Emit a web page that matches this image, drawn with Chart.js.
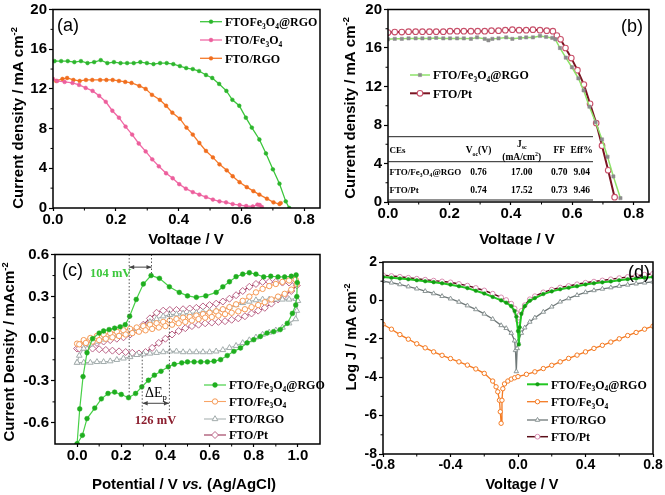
<!DOCTYPE html>
<html>
<head>
<meta charset="utf-8">
<script src="https://cdn.jsdelivr.net/npm/chart.js@4.4.1/dist/chart.umd.min.js"></script>
<style>
html, body { margin: 0; padding: 0; background: #fff; }
#page { position: relative; width: 665px; height: 495px; overflow: hidden; }
.panel { position: absolute; }
</style>
</head>
<body>
<div id="page">
  <div class="panel" style="left:0;top:0;width:332px;height:245px"><canvas id="chartA"></canvas></div>
  <div class="panel" style="left:332px;top:0;width:333px;height:245px"><canvas id="chartB"></canvas></div>
  <div class="panel" style="left:0;top:245px;width:332px;height:250px"><canvas id="chartC"></canvas></div>
  <div class="panel" style="left:332px;top:245px;width:333px;height:250px"><canvas id="chartD"></canvas></div>
</div>
<script>
var SANS = '"Liberation Sans", Arial, Helvetica, sans-serif';
var SERIF = '"Liberation Serif", "Times New Roman", Times, serif';

// (a) J-V curves of the bare electrodes
var aGreenV = [0.005,0.026,0.047,0.068,0.089,0.11,0.131,0.152,0.173,0.194,0.215,0.236,0.257,0.278,0.299,0.32,0.341,0.362,0.383,0.404,0.424,0.445,0.465,0.487,0.507,0.529,0.552,0.571,0.593,0.614,0.633,0.657,0.678,0.7,0.721,0.741,0.752];
var aGreenJ = [14.8,14.8,14.8,14.7,14.8,14.6,14.7,14.9,14.6,14.7,14.6,14.6,14.6,14.7,14.6,14.5,14.6,14.6,14.5,14.3,14.1,14.0,13.8,13.4,13.1,12.5,11.8,10.9,10.3,9.1,8.1,6.9,5.5,3.9,2.45,0.67,0];
var aPinkV = [0.0,0.013,0.037,0.062,0.083,0.104,0.126,0.147,0.168,0.189,0.21,0.231,0.252,0.273,0.295,0.316,0.337,0.36,0.381,0.402,0.423,0.445,0.466,0.487,0.509,0.53,0.551,0.572,0.594,0.615,0.636,0.651,0.658,0.665];
var aPinkJ = [13.0,12.8,12.7,12.6,12.4,12.1,11.8,11.3,10.7,9.8,9.1,8.2,7.4,6.5,5.7,4.9,4.2,3.5,3.0,2.4,1.95,1.6,1.35,1.1,0.85,0.67,0.57,0.4,0.3,0.2,0.15,0.35,0.3,0.1];
var aOrangeV = [0.01,0.03,0.045,0.065,0.085,0.105,0.125,0.15,0.17,0.19,0.21,0.23,0.25,0.275,0.295,0.315,0.34,0.36,0.38,0.404,0.425,0.445,0.466,0.487,0.509,0.53,0.553,0.572,0.594,0.617,0.638,0.657,0.681,0.702,0.721,0.725];
var aOrangeJ = [12.8,13.0,13.1,12.9,12.8,12.9,12.9,12.9,12.9,12.9,12.8,12.7,12.6,12.3,12.0,11.4,10.9,10.3,9.6,9.0,8.1,7.4,6.55,5.75,5.1,4.4,3.8,3.2,2.6,2.1,1.7,1.35,0.94,0.57,0.4,0.5];

// (b) J-V curves of the cells
var bGreenV = [0.0,0.022,0.045,0.067,0.09,0.112,0.135,0.157,0.18,0.202,0.225,0.247,0.27,0.29,0.315,0.327,0.34,0.36,0.385,0.405,0.43,0.45,0.472,0.495,0.515,0.535,0.545,0.56,0.579,0.599,0.62,0.637,0.656,0.676,0.697,0.715,0.734,0.757];
var bGreenJ = [16.9,16.95,16.95,17.0,17.0,17.0,17.0,17.05,17.0,17.0,17.0,17.0,16.95,17.1,16.95,16.8,16.95,17.0,17.1,16.95,17.05,17.1,17.1,17.25,17.15,17.05,16.9,16.0,15.0,14.0,12.85,11.6,9.9,8.3,6.5,4.7,2.65,0.4];
var bPtV = [0.0,0.022,0.045,0.067,0.09,0.112,0.135,0.157,0.18,0.202,0.225,0.247,0.27,0.292,0.315,0.337,0.36,0.382,0.405,0.427,0.45,0.472,0.495,0.517,0.537,0.55,0.562,0.578,0.597,0.617,0.638,0.658,0.678,0.697,0.717,0.738];
var bPtJ = [17.6,17.65,17.65,17.7,17.7,17.7,17.7,17.7,17.7,17.75,17.75,17.75,17.75,17.75,17.75,17.8,17.8,17.85,17.9,17.85,17.85,17.9,17.85,17.8,17.75,17.3,16.9,16.0,14.95,13.7,12.2,10.2,8.2,5.85,3.3,0.5];
var tableHead = ['CEs', 'V_{oc}(V)', 'J_{sc}', '(mA/cm^2)', 'FF', 'Eff%'];
var tableRows = [
    ['FTO/Fe_3O_4@RGO', '0.76', '17.00', '0.70', '9.04'],
    ['FTO/Pt', '0.74', '17.52', '0.73', '9.46']
];

// (c) cyclic voltammograms (forward then reverse scan)
var cGreenV = [0.0,0.012,0.027,0.045,0.07,0.1,0.12,0.145,0.17,0.195,0.218,0.238,0.268,0.3,0.335,0.373,0.418,0.463,0.5,0.54,0.583,0.63,0.66,0.69,0.72,0.75,0.78,0.81,0.845,0.877,0.91,0.94,0.97,0.992,0.997,0.995,0.99,0.975,0.952,0.92,0.89,0.86,0.83,0.8,0.77,0.74,0.71,0.68,0.65,0.62,0.59,0.56,0.53,0.5,0.474,0.44,0.413,0.38,0.35,0.323,0.293,0.265,0.233,0.2,0.17,0.14,0.11,0.08,0.045,0.024,0.0];
var cGreenJ = [-0.75,-0.5,-0.27,-0.1,0.0,0.04,0.055,0.065,0.075,0.085,0.1,0.16,0.28,0.39,0.45,0.43,0.37,0.33,0.305,0.295,0.305,0.33,0.37,0.406,0.442,0.46,0.47,0.46,0.44,0.445,0.44,0.44,0.445,0.454,0.4,0.3,0.24,0.18,0.11,0.065,0.05,0.04,0.016,-0.007,-0.03,-0.066,-0.09,-0.12,-0.149,-0.16,-0.165,-0.165,-0.165,-0.165,-0.172,-0.182,-0.2,-0.232,-0.26,-0.296,-0.343,-0.39,-0.42,-0.397,-0.38,-0.39,-0.428,-0.494,-0.569,-0.688,-0.75];
var cOrangeV = [0.0,0.03,0.06,0.09,0.12,0.15,0.18,0.21,0.24,0.27,0.3,0.33,0.36,0.39,0.42,0.45,0.48,0.51,0.54,0.57,0.6,0.63,0.66,0.69,0.72,0.75,0.78,0.81,0.84,0.87,0.9,0.93,0.96,0.99,0.995,
    0.97,0.94,0.91,0.88,0.85,0.82,0.79,0.76,0.73,0.7,0.67,0.64,0.61,0.58,0.55,0.52,0.49,0.46,0.43,0.4,0.37,0.34,0.31,0.28,0.25,0.22,0.19,0.16,0.13,0.1,0.07,0.04,0.01];
var cOrangeJ = [-0.035,-0.01,0.005,0.02,0.03,0.04,0.05,0.06,0.07,0.08,0.09,0.1,0.11,0.12,0.13,0.14,0.15,0.155,0.165,0.175,0.185,0.195,0.21,0.225,0.245,0.27,0.3,0.33,0.355,0.375,0.39,0.405,0.415,0.42,0.39,
    0.35,0.32,0.3,0.28,0.26,0.24,0.225,0.21,0.195,0.185,0.175,0.165,0.155,0.15,0.14,0.13,0.12,0.11,0.1,0.09,0.08,0.07,0.06,0.05,0.04,0.03,0.02,0.01,0.0,-0.01,-0.02,-0.03,-0.04];
var cGreyV = [0.0,0.01,0.03,0.06,0.09,0.12,0.15,0.18,0.21,0.24,0.27,0.3,0.33,0.36,0.39,0.42,0.45,0.48,0.51,0.54,0.57,0.6,0.63,0.66,0.69,0.72,0.75,0.78,0.81,0.84,0.87,0.9,0.93,0.96,0.99,1.0,0.995,0.99,
    0.96,0.93,0.9,0.87,0.84,0.81,0.78,0.75,0.72,0.69,0.66,0.63,0.6,0.57,0.54,0.51,0.48,0.45,0.42,0.39,0.36,0.33,0.3,0.27,0.24,0.21,0.18,0.15,0.12,0.09,0.06,0.03,0.0];
var cGreyJ = [-0.17,-0.12,-0.07,-0.04,-0.02,-0.005,0.01,0.02,0.035,0.05,0.07,0.09,0.12,0.14,0.16,0.17,0.175,0.18,0.18,0.185,0.19,0.195,0.2,0.21,0.225,0.24,0.255,0.265,0.275,0.28,0.28,0.28,0.28,0.28,0.285,0.27,0.2,0.14,
    0.11,0.08,0.06,0.045,0.03,0.01,-0.01,-0.03,-0.05,-0.065,-0.08,-0.09,-0.095,-0.095,-0.095,-0.095,-0.095,-0.09,-0.09,-0.095,-0.1,-0.105,-0.11,-0.115,-0.13,-0.14,-0.15,-0.16,-0.165,-0.165,-0.17,-0.17,-0.17];
var cPtV = [0.0,0.03,0.06,0.09,0.12,0.15,0.18,0.21,0.24,0.27,0.3,0.33,0.36,0.39,0.42,0.45,0.48,0.51,0.54,0.57,0.6,0.63,0.66,0.69,0.72,0.75,0.78,0.81,0.84,0.87,0.9,0.93,0.96,0.99,0.995,
    0.97,0.94,0.91,0.88,0.85,0.82,0.79,0.76,0.73,0.7,0.67,0.64,0.61,0.58,0.55,0.52,0.49,0.46,0.43,0.4,0.37,0.34,0.31,0.28,0.25,0.22,0.19,0.16,0.13,0.1,0.07,0.04,0.01];
var cPtJ = [-0.07,-0.055,-0.04,-0.03,-0.02,-0.01,0.0,0.01,0.03,0.06,0.1,0.145,0.185,0.2,0.205,0.205,0.21,0.215,0.22,0.23,0.24,0.25,0.265,0.285,0.31,0.34,0.37,0.39,0.405,0.405,0.405,0.4,0.4,0.4,0.38,
    0.34,0.31,0.28,0.25,0.22,0.2,0.18,0.16,0.145,0.135,0.125,0.12,0.115,0.11,0.1,0.09,0.075,0.055,0.03,0.0,-0.03,-0.065,-0.095,-0.105,-0.1,-0.095,-0.09,-0.085,-0.08,-0.075,-0.07,-0.07,-0.07];

// (d) Tafel polarization curves
var dGreenV = [-0.8,-0.75,-0.7,-0.65,-0.6,-0.55,-0.5,-0.45,-0.4,-0.35,-0.3,-0.25,-0.2,-0.15,-0.1,-0.07,-0.04,-0.02,-0.01,0,0.005,0.01,0.02,0.04,0.07,0.1,0.15,0.2,0.25,0.3,0.35,0.4,0.45,0.5,0.55,0.6,0.65,0.7,0.75,0.8];
var dGreenJ = [1.22,1.18,1.14,1.1,1.05,1.0,0.95,0.89,0.82,0.74,0.64,0.5,0.36,0.18,0.0,-0.12,-0.3,-0.55,-0.85,-1.6,-2.3,-1.4,-0.7,-0.3,-0.02,0.12,0.33,0.47,0.58,0.66,0.74,0.83,0.89,0.94,0.99,1.05,1.1,1.14,1.18,1.22];
var dOrangeV = [-0.8,-0.75,-0.7,-0.65,-0.6,-0.55,-0.5,-0.45,-0.4,-0.35,-0.3,-0.25,-0.2,-0.15,-0.13,-0.12,-0.11,-0.105,-0.1,-0.095,-0.09,-0.08,-0.06,-0.04,-0.02,0,0.05,0.1,0.15,0.2,0.25,0.3,0.35,0.4,0.45,0.5,0.55,0.6,0.65,0.7,0.75,0.8];
var dOrangeJ = [-1.24,-1.5,-1.78,-2.02,-2.26,-2.47,-2.68,-2.86,-3.03,-3.2,-3.37,-3.57,-3.8,-4.2,-4.5,-4.76,-5.2,-5.8,-6.4,-5.2,-4.6,-4.35,-4.2,-4.1,-4.03,-3.97,-3.85,-3.72,-3.55,-3.38,-3.2,-3.02,-2.85,-2.68,-2.5,-2.34,-2.17,-2.0,-1.83,-1.67,-1.5,-1.34];
var dGreyV = [-0.8,-0.75,-0.7,-0.65,-0.6,-0.55,-0.5,-0.45,-0.4,-0.35,-0.3,-0.25,-0.2,-0.15,-0.1,-0.07,-0.04,-0.02,-0.015,-0.01,-0.005,0,0.02,0.04,0.07,0.1,0.15,0.2,0.25,0.3,0.35,0.4,0.45,0.5,0.55,0.6,0.65,0.7,0.75,0.8];
var dGreyJ = [1.0,0.92,0.83,0.72,0.61,0.48,0.36,0.22,0.09,-0.08,-0.27,-0.47,-0.7,-0.97,-1.3,-1.45,-1.7,-2.1,-2.6,-3.7,-2.5,-2.15,-1.7,-1.42,-1.12,-0.9,-0.6,-0.33,-0.07,0.1,0.27,0.42,0.52,0.6,0.67,0.75,0.81,0.87,0.92,0.97];
var dPtV = dGreenV;
var dPtJ = [1.31,1.27,1.23,1.18,1.13,1.08,1.03,0.99,0.94,0.86,0.77,0.65,0.52,0.35,0.16,0.02,-0.17,-0.42,-0.65,-1.05,-0.9,-0.75,-0.55,-0.25,0.06,0.22,0.42,0.56,0.67,0.75,0.84,0.92,0.98,1.04,1.1,1.16,1.22,1.28,1.34,1.39];

// tick values
var jvTicksX = [0, 0.2, 0.4, 0.6, 0.8];
var jvMinorX = [0.1, 0.3, 0.5, 0.7];
var jvTicksY = [0, 4, 8, 12, 16, 20];
var jvMinorY = [2, 6, 10, 14, 18];
var cvTicksX = [0, 0.2, 0.4, 0.6, 0.8, 1.0];
var cvMinorX = [0.1, 0.3, 0.5, 0.7, 0.9];
var cvTicksY = [-0.6, -0.3, 0, 0.3, 0.6];
var cvMinorY = [-0.45, -0.15, 0.15, 0.45];
var tfTicksX = [-0.8, -0.4, 0, 0.4, 0.8];
var tfMinorX = [-0.6, -0.2, 0.2, 0.6];
var tfTicksY = [-8, -6, -4, -2, 0, 2];
var tfMinorY = [-7, -5, -3, -1, 1];

// ---- text with sub/superscripts: _x or _{..}, ^x or ^{..}, ~ toggles italic
function parseRich(s) {
    var out = [], i = 0, it = false;
    while (i < s.length) {
        var c = s[i];
        if ((c === '_' || c === '^') && i + 1 < s.length) {
            var t;
            if (s[i + 1] === '{') { var j = s.indexOf('}', i + 2); t = s.slice(i + 2, j); i = j + 1; }
            else { t = s[i + 1]; i += 2; }
            out.push({t: t, m: c === '_' ? 'sub' : 'sup', it: it});
        } else if (c === '~') { it = !it; i++; }
        else {
            var k = i;
            while (k < s.length && '_^~'.indexOf(s[k]) < 0) k++;
            out.push({t: s.slice(i, k), m: 'n', it: it});
            i = k;
        }
    }
    return out;
}

function drawRich(ctx, s, x, y, st) {
    var parts = parseRich(s);
    var fontOf = function (p) {
        var size = p.m === 'n' ? st.size : st.size * 0.62;
        return (p.it ? 'italic ' : '') + (st.weight || 'normal') + ' ' + size + 'px ' + st.family;
    };
    var w = 0;
    parts.forEach(function (p) { ctx.font = fontOf(p); p.w = ctx.measureText(p.t).width; w += p.w; });
    ctx.save();
    ctx.translate(x, y);
    if (st.rot) ctx.rotate(st.rot);
    var cx = st.align === 'center' ? -w / 2 : (st.align === 'right' ? -w : 0);
    ctx.fillStyle = st.color || '#000';
    ctx.textBaseline = 'alphabetic';
    var base = st.size * 0.36;
    parts.forEach(function (p) {
        ctx.font = fontOf(p);
        var dy = p.m === 'sub' ? st.size * 0.22 : (p.m === 'sup' ? -st.size * 0.42 : 0);
        ctx.fillText(p.t, cx, base + dy);
        cx += p.w;
    });
    ctx.restore();
}

function drawMarker(ctx, style, r, x, y, fill, stroke, bw) {
    ctx.save();
    ctx.fillStyle = fill;
    ctx.strokeStyle = stroke;
    ctx.lineWidth = bw;
    ctx.beginPath();
    if (style === 'rect') {
        var h = r * Math.SQRT1_2;
        ctx.rect(x - h, y - h, 2 * h, 2 * h);
    } else if (style === 'rectRot') {
        ctx.moveTo(x, y - r); ctx.lineTo(x + r, y); ctx.lineTo(x, y + r); ctx.lineTo(x - r, y); ctx.closePath();
    } else if (style === 'triangle') {
        for (var k = 0; k < 3; k++) {
            var ang = k * 2 * Math.PI / 3;
            var px = x + Math.sin(ang) * r, py = y - Math.cos(ang) * r;
            if (k === 0) ctx.moveTo(px, py); else ctx.lineTo(px, py);
        }
        ctx.closePath();
    } else {
        ctx.arc(x, y, r, 0, Math.PI * 2);
    }
    ctx.fill();
    if (bw > 0) ctx.stroke();
    ctx.restore();
}

// frame, minor ticks, legend, annotations, table
var deco = {
    id: 'deco',
    afterDatasetsDraw: function (chart, args, o) {
        var ctx = chart.ctx, a = chart.chartArea, sx = chart.scales.x, sy = chart.scales.y;
        ctx.save();
        (o.guides || []).forEach(function (g) {
            ctx.strokeStyle = g.color; ctx.lineWidth = 1; ctx.setLineDash([1.5, 2]);
            ctx.beginPath();
            ctx.moveTo(sx.getPixelForValue(g.x), sy.getPixelForValue(g.y1));
            ctx.lineTo(sx.getPixelForValue(g.x), sy.getPixelForValue(g.y2));
            ctx.stroke();
        });
        ctx.setLineDash([]);
        (o.arrows || []).forEach(function (g) {
            var y = sy.getPixelForValue(g.y), x1 = sx.getPixelForValue(g.x1), x2 = sx.getPixelForValue(g.x2);
            ctx.strokeStyle = g.color; ctx.fillStyle = g.color; ctx.lineWidth = 1;
            ctx.beginPath(); ctx.moveTo(x1, y); ctx.lineTo(x2, y); ctx.stroke();
            [[x1, 1], [x2, -1]].forEach(function (e) {
                ctx.beginPath();
                ctx.moveTo(e[0], y); ctx.lineTo(e[0] + e[1] * 5, y - 2.2); ctx.lineTo(e[0] + e[1] * 5, y + 2.2);
                ctx.closePath(); ctx.fill();
            });
        });
        ctx.strokeStyle = '#000';
        ctx.lineWidth = 1.5;
        ctx.strokeRect(a.left, a.top, a.right - a.left, a.bottom - a.top);
        ctx.lineWidth = 1;
        (o.minorX || []).forEach(function (v) {
            var x = sx.getPixelForValue(v);
            ctx.beginPath(); ctx.moveTo(x, a.bottom); ctx.lineTo(x, a.bottom + 2.5); ctx.stroke();
        });
        (o.minorY || []).forEach(function (v) {
            var y = sy.getPixelForValue(v);
            ctx.beginPath(); ctx.moveTo(a.left, y); ctx.lineTo(a.left - 2.5, y); ctx.stroke();
        });
        (o.rules || []).forEach(function (r) {
            ctx.strokeStyle = '#222'; ctx.lineWidth = 1;
            ctx.beginPath(); ctx.moveTo(r.x1, r.y); ctx.lineTo(r.x2, r.y); ctx.stroke();
        });
        (o.texts || []).forEach(function (t) { drawRich(ctx, t.text, t.x, t.y, t); });
        if (o.legend) {
            var L = o.legend;
            L.items.forEach(function (di, k) {
                var ds = chart.data.datasets[di], y = L.rows[k];
                ctx.strokeStyle = ds.borderColor; ctx.lineWidth = ds.borderWidth;
                ctx.beginPath(); ctx.moveTo(L.x, y); ctx.lineTo(L.x + L.len, y); ctx.stroke();
                drawMarker(ctx, ds.pointStyle, ds.pointRadius, L.x + L.len / 2, y,
                    ds.pointBackgroundColor, ds.pointBorderColor, ds.pointBorderWidth);
                drawRich(ctx, ds.label, L.x + L.len + 3, y, {size: 12, family: SERIF, weight: 'bold', color: '#000'});
            });
        }
        ctx.restore();
    }
};
Chart.register(deco);

function series(label, xs, ys, st) {
    return Object.assign({
        label: label,
        data: xs.map(function (x, i) { return {x: x, y: ys[i]}; }),
        tension: 0, fill: false
    }, st);
}

function linAxis(o) {
    return {
        type: 'linear', min: o.min, max: o.max,
        afterBuildTicks: function (s) { s.ticks = o.ticks.map(function (v) { return {value: v}; }); },
        afterFit: function (s) { s[o.fit] = o.size; },
        border: {display: false},
        grid: {drawOnChartArea: false, drawTicks: true, tickLength: o.tl, tickColor: '#000', tickWidth: 1.2},
        ticks: {
            color: '#000', padding: o.pad, autoSkip: false, maxRotation: 0,
            font: {family: SANS, size: o.fs, weight: 'bold', lineHeight: 1},
            callback: function (v) { return v.toFixed(o.dec); }
        }
    };
}

function makeChart(id, cfg) {
    return new Chart(document.getElementById(id), {
        type: 'line',
        data: {datasets: cfg.datasets},
        options: {
            responsive: true, maintainAspectRatio: false, animation: false, events: [],
            layout: {padding: cfg.pad},
            scales: {x: linAxis(cfg.x), y: linAxis(cfg.y)},
            plugins: {legend: {display: false}, tooltip: {enabled: false}, deco: cfg.deco}
        }
    });
}

function txt(text, x, y, st) { return Object.assign({text: text, x: x, y: y}, st); }
var titleSt = {size: 15, family: SANS, weight: 'bold', align: 'center'};
var yTitleSt = Object.assign({}, titleSt, {rot: -Math.PI / 2});
var tagSt = {size: 18, family: SANS, weight: 'normal'};

// ---- (a)
makeChart('chartA', {
    pad: {left: 0, right: 12, top: 9, bottom: 0},
    x: {min: 0, max: 0.85, ticks: jvTicksX, dec: 1, fit: 'height', size: 37, tl: 3, pad: 1, fs: 15},
    y: {min: 0, max: 20, ticks: jvTicksY, dec: 0, fit: 'width', size: 53, tl: 4, pad: 2, fs: 15},
    datasets: [
        series('FTOFe_3O_4@RGO', aGreenV, aGreenJ, {borderColor: '#3cc63c', borderWidth: 1.3, pointStyle: 'circle', pointRadius: 1.9, pointBackgroundColor: '#2db52d', pointBorderColor: '#2db52d', pointBorderWidth: 0.5}),
        series('FTO/Fe_3O_4', aPinkV, aPinkJ, {borderColor: '#f06aa6', borderWidth: 1.3, pointStyle: 'circle', pointRadius: 1.9, pointBackgroundColor: '#ec5f9c', pointBorderColor: '#ec5f9c', pointBorderWidth: 0.5}),
        series('FTO/RGO', aOrangeV, aOrangeJ, {borderColor: '#f57a2a', borderWidth: 1.3, pointStyle: 'circle', pointRadius: 1.9, pointBackgroundColor: '#f06e1e', pointBorderColor: '#f06e1e', pointBorderWidth: 0.5})
    ],
    deco: {
        minorX: jvMinorX, minorY: jvMinorY,
        legend: {x: 200, len: 22, rows: [21.7, 40, 58.3], items: [0, 1, 2]},
        texts: [
            txt('(a)', 57, 25, tagSt),
            txt('Voltage / V', 186, 239, titleSt),
            txt('Current density / mA cm^{-2}', 18, 118, yTitleSt)
        ]
    }
});

// ---- (b)
var tblSt = {size: 9.5, family: SERIF, weight: 'bold', align: 'center'};
var tblLeft = {size: 9, family: SERIF, weight: 'bold'};
var colX = [57.5, 146.5, 189.7, 227.3, 249.7];
var rowY = [171.7, 190];
var tableTexts = [
    txt(tableHead[0], colX[0], 150, tblLeft),
    txt(tableHead[1], colX[1], 150, tblSt),
    txt(tableHead[2], colX[2], 143.3, tblSt),
    txt(tableHead[3], colX[2], 156.7, tblSt),
    txt(tableHead[4], colX[3], 150, tblSt),
    txt(tableHead[5], colX[4], 150, tblSt)
];
tableRows.forEach(function (row, r) {
    row.forEach(function (cell, c) {
        tableTexts.push(txt(cell, colX[c], rowY[r], c === 0 ? tblLeft : tblSt));
    });
});
makeChart('chartB', {
    pad: {left: 0, right: 16, top: 8, bottom: 0},
    x: {min: 0, max: 0.85, ticks: jvTicksX, dec: 1, fit: 'height', size: 43, tl: 3, pad: 1, fs: 15},
    y: {min: 0, max: 20, ticks: jvTicksY, dec: 0, fit: 'width', size: 56, tl: 4, pad: 2, fs: 15},
    datasets: [
        series('FTO/Fe_3O_4@RGO', bGreenV, bGreenJ, {borderColor: '#8ee36a', borderWidth: 1.5, pointStyle: 'rect', pointRadius: 2.3, pointBackgroundColor: '#8c8c8c', pointBorderColor: '#8c8c8c', pointBorderWidth: 0.5}),
        series('FTO/Pt', bPtV, bPtJ, {borderColor: '#7a1522', borderWidth: 2, pointStyle: 'circle', pointRadius: 2.8, pointBackgroundColor: '#ffffff', pointBorderColor: '#c8506a', pointBorderWidth: 1.1})
    ],
    deco: {
        minorX: jvMinorX, minorY: jvMinorY,
        legend: {x: 78, len: 20, rows: [75, 93.3], items: [0, 1]},
        rules: [{x1: 56, x2: 261, y: 136.7}, {x1: 56, x2: 261, y: 161.7}, {x1: 56, x2: 261, y: 200}],
        texts: [
            txt('(b)', 311, 26, Object.assign({}, tagSt, {align: 'right'})),
            txt('Voltage / V', 185, 239, titleSt),
            txt('Current density / mA cm^{-2}', 18, 108, yTitleSt)
        ].concat(tableTexts)
    }
});

// ---- (c)
var cvNote = {size: 12.5, family: SERIF, weight: 'bold'};
makeChart('chartC', {
    pad: {left: 0, right: 12, top: 9, bottom: 0},
    x: {min: -0.1, max: 1.1, ticks: cvTicksX, dec: 1, fit: 'height', size: 51, tl: 3, pad: 1, fs: 15},
    y: {min: -0.75, max: 0.6, ticks: cvTicksY, dec: 1, fit: 'width', size: 55, tl: 4, pad: 2, fs: 15},
    datasets: [
        series('FTO/Fe_3O_4@RGO', cGreenV, cGreenJ, {borderColor: '#48d048', borderWidth: 1.2, pointStyle: 'circle', pointRadius: 2.4, pointBackgroundColor: '#1fae1f', pointBorderColor: '#1fae1f', pointBorderWidth: 0.5}),
        series('FTO/Fe_3O_4', cOrangeV, cOrangeJ, {borderColor: '#f8a466', borderWidth: 1.1, pointStyle: 'circle', pointRadius: 2.7, pointBackgroundColor: '#ffffff', pointBorderColor: '#f59a56', pointBorderWidth: 1}),
        series('FTO/RGO', cGreyV, cGreyJ, {borderColor: '#aab2b2', borderWidth: 1.1, pointStyle: 'triangle', pointRadius: 3.3, pointBackgroundColor: '#ffffff', pointBorderColor: '#a2acac', pointBorderWidth: 1}),
        series('FTO/Pt', cPtV, cPtJ, {borderColor: '#9a3456', borderWidth: 1.1, pointStyle: 'rectRot', pointRadius: 3.5, pointBackgroundColor: '#ffffff', pointBorderColor: '#bc6488', pointBorderWidth: 1})
    ],
    deco: {
        minorX: cvMinorX, minorY: cvMinorY,
        guides: [
            {x: 0.236, y1: 0.6, y2: -0.42, color: '#555'},
            {x: 0.337, y1: 0.6, y2: 0.45, color: '#555'},
            {x: 0.295, y1: -0.1, y2: -0.53, color: '#555'},
            {x: 0.418, y1: 0.2, y2: -0.53, color: '#555'}
        ],
        arrows: [
            {x1: 0.236, x2: 0.337, y: 0.51, color: '#444'},
            {x1: 0.297, x2: 0.416, y: -0.46, color: '#444'}
        ],
        legend: {x: 204, len: 22, rows: [140, 156.5, 174, 190], items: [0, 1, 2, 3]},
        texts: [
            txt('(c)', 62, 25, tagSt),
            txt('104 mV', 90, 27.7, Object.assign({}, cvNote, {color: '#3cc83c'})),
            txt('\u0394E_p', 145, 146.7, {size: 14, family: SERIF, weight: 'normal'}),
            txt('126 mV', 155.5, 174.3, Object.assign({}, cvNote, {color: '#8b1e2e', align: 'center'})),
            txt('Potential / V ~vs.~ (Ag/AgCl)', 184, 238.5, titleSt),
            txt('Current Density / mAcm^{-2}', 9, 107, yTitleSt)
        ]
    }
});

// ---- (d)
var dTitleSt = Object.assign({}, titleSt, {size: 14.5});
makeChart('chartD', {
    pad: {left: 0, right: 12, top: 17, bottom: 0},
    x: {min: -0.8, max: 0.8, ticks: tfTicksX, dec: 1, fit: 'height', size: 41, tl: 3, pad: 1, fs: 14},
    y: {min: -8, max: 2, ticks: tfTicksY, dec: 0, fit: 'width', size: 51, tl: 4, pad: 2, fs: 14},
    datasets: [
        series('FTO/Fe_3O_4@RGO', dGreenV, dGreenJ, {borderColor: '#22c722', borderWidth: 2, pointStyle: 'circle', pointRadius: 1.8, pointBackgroundColor: '#139c13', pointBorderColor: '#139c13', pointBorderWidth: 0.5}),
        series('FTO/Fe_3O_4', dOrangeV, dOrangeJ, {borderColor: '#f47a22', borderWidth: 1.3, pointStyle: 'circle', pointRadius: 2.2, pointBackgroundColor: '#ffffff', pointBorderColor: '#f47a22', pointBorderWidth: 1}),
        series('FTO/RGO', dGreyV, dGreyJ, {borderColor: '#6f7878', borderWidth: 1.3, pointStyle: 'triangle', pointRadius: 2.6, pointBackgroundColor: '#ffffff', pointBorderColor: '#8c9696', pointBorderWidth: 1}),
        series('FTO/Pt', dPtV, dPtJ, {borderColor: '#5b0e18', borderWidth: 1.5, pointStyle: 'circle', pointRadius: 2.4, pointBackgroundColor: '#ffffff', pointBorderColor: '#d98cb0', pointBorderWidth: 1})
    ],
    deco: {
        minorX: tfMinorX, minorY: tfMinorY,
        legend: {x: 195, len: 21, rows: [139.3, 156.7, 175, 191.7], items: [0, 1, 2, 3]},
        texts: [
            txt('(d)', 318, 27, Object.assign({}, tagSt, {align: 'right'})),
            txt('Voltage / V', 190, 239, dTitleSt),
            txt('Log J / mA cm^{-2}', 19, 92, Object.assign({}, dTitleSt, {rot: -Math.PI / 2}))
        ]
    }
});
</script>
</body>
</html>
